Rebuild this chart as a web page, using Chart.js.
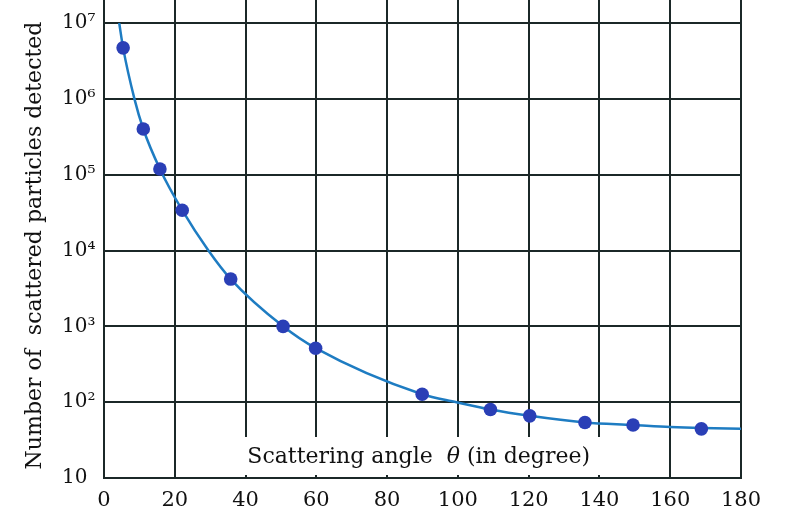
<!DOCTYPE html>
<html>
<head>
<meta charset="utf-8">
<script src="https://cdn.jsdelivr.net/npm/chart.js@4/dist/chart.umd.min.js"></script>
<style>
  body { margin: 0; background: #fff; }
  canvas { display: block; }
</style>
</head>
<body>
<canvas id="myChart" width="787" height="513"></canvas>
<script>
// measured points (the dots)
let measuredAngles = [5.4, 11.1, 15.8, 22.1, 35.8, 50.6, 59.8, 89.9, 109.2, 120.3, 135.9, 149.5, 168.8];
let measuredCounts = [4.7e6, 4.0e5, 1.19e5, 3.4e4, 4200, 1000, 515, 127, 80, 66, 54, 50, 44.5];

// points
let curveAngles = [4.3, 5.4, 8.6, 11.1, 15.8, 22.1, 29.5, 35.8, 50.6, 59.8, 89.9, 99.6, 109.2, 120.3, 135.9, 149.5, 160, 168.8, 180];
let curveCounts = [1e7, 4.7e6, 1e6, 4.0e5, 1.19e5, 3.4e4, 1e4, 4200, 1000, 515, 127, 100, 80, 66, 54, 50, 47, 45.5, 44.5];

// y axis ticks (powers of ten)
let countTicks = [10, 100, 1e3, 1e4, 1e5, 1e6, 1e7];
let countTickLabels = ['10', '10\u00B2', '10\u00B3', '10\u2074', '10\u2075', '10\u2076', '10\u2077'];

let yTitle = 'Number of  scattered particles detected';
let xTitleParts = ['Scattering angle  ', '\u03B8', ' (in degree)'];

const FONT = '"DejaVu Serif", "Liberation Serif", serif';
const GRID = '#1b2828';
const INK = '#111';

function toXY(xs, ys) {
  let arr = [];
  for (let i = 0; i < xs.length; i++) arr.push({x: xs[i], y: ys[i]});
  return arr;
}

// extra text + grid stubs
const decorations = {
  id: 'decorations',
  beforeDatasetsDraw(chart) {
    const ctx = chart.ctx;
    const xs = chart.scales.x;
    const area = chart.chartArea;
    ctx.save();
    // vertical grid continues a little above the top line
    ctx.strokeStyle = GRID;
    ctx.lineWidth = 2;
    xs.ticks.forEach(t => {
      const px = Math.round(xs.getPixelForValue(t.value));
      ctx.beginPath();
      ctx.moveTo(px, 0);
      ctx.lineTo(px, area.top);
      ctx.stroke();
    });
    // white box holding the x-axis title, inside the plot
    const bx0 = xs.getPixelForValue(38);
    const bx1 = xs.getPixelForValue(141.5);
    const by0 = area.bottom - 41;
    const by1 = area.bottom - 3;
    ctx.fillStyle = '#fff';
    ctx.fillRect(bx0, by0, bx1 - bx0, by1 - by0);

    ctx.fillStyle = INK;
    ctx.textBaseline = 'alphabetic';
    ctx.textAlign = 'left';
    let tx = xs.getPixelForValue(40.5);
    const ty = area.bottom - 15;
    ctx.font = '22px ' + FONT;
    ctx.fillText(xTitleParts[0], tx, ty);
    tx += ctx.measureText(xTitleParts[0]).width;
    ctx.font = 'italic 22px ' + FONT;
    ctx.fillText(xTitleParts[1], tx, ty);
    tx += ctx.measureText(xTitleParts[1]).width;
    ctx.font = '22px ' + FONT;
    ctx.fillText(xTitleParts[2], tx, ty);

    // y-axis title
    ctx.translate(35, (area.top + area.bottom) / 2 - 5);
    ctx.rotate(-Math.PI / 2);
    ctx.textAlign = 'center';
    ctx.textBaseline = 'middle';
    ctx.font = '22px ' + FONT;
    ctx.fillText(yTitle, 0, 0);
    ctx.restore();
  }
};

function runGraph() {
  let ctx = document.getElementById('myChart').getContext('2d');
  let chart = new Chart(ctx, {
    type: 'line',
    data: {
      datasets: [{
        label: 'measured',
        data: toXY(measuredAngles, measuredCounts),
        showLine: false,
        pointRadius: 6.8,
        pointBackgroundColor: '#2a3fb6',
        pointBorderColor: '#2a3fb6',
        pointBorderWidth: 0,
        order: 0
      }, {
        label: 'curve',
        data: toXY(curveAngles, curveCounts),
        borderColor: '#1e7cc2',
        borderWidth: 2.5,
        pointRadius: 0,
        cubicInterpolationMode: 'monotone',
        fill: false,
        order: 1
      }]
    },
    options: {
      responsive: false,
      devicePixelRatio: 1,
      animation: false,
      layout: { padding: { left: 62, top: 23, right: 46, bottom: 0 } },
      plugins: {
        legend: { display: false },
        tooltip: { enabled: false }
      },
      scales: {
        x: {
          type: 'linear',
          min: 0,
          max: 180,
          ticks: {
            stepSize: 20,
            color: INK,
            font: { family: FONT, size: 21 },
            padding: 10,
            maxRotation: 0
          },
          grid: { color: GRID, lineWidth: 2, drawTicks: false },
          border: { color: GRID, width: 2 },
          afterFit(scale) { scale.height = 35; }
        },
        y: {
          type: 'logarithmic',
          min: 10,
          max: 1e7,
          afterBuildTicks(scale) {
            scale.ticks = countTicks.map(v => ({ value: v, major: true }));
          },
          ticks: {
            crossAlign: 'far',
            color: INK,
            font: { family: FONT, size: 20 },
            callback: (v) => countTickLabels[countTicks.indexOf(v)]
          },
          grid: { color: GRID, lineWidth: 2, drawTicks: false },
          border: { color: GRID, width: 2 },
          afterFit(scale) { scale.width = 42; }
        }
      }
    },
    plugins: [decorations]
  });
  return chart;
}

let myChart = runGraph();
</script>
</body>
</html>
